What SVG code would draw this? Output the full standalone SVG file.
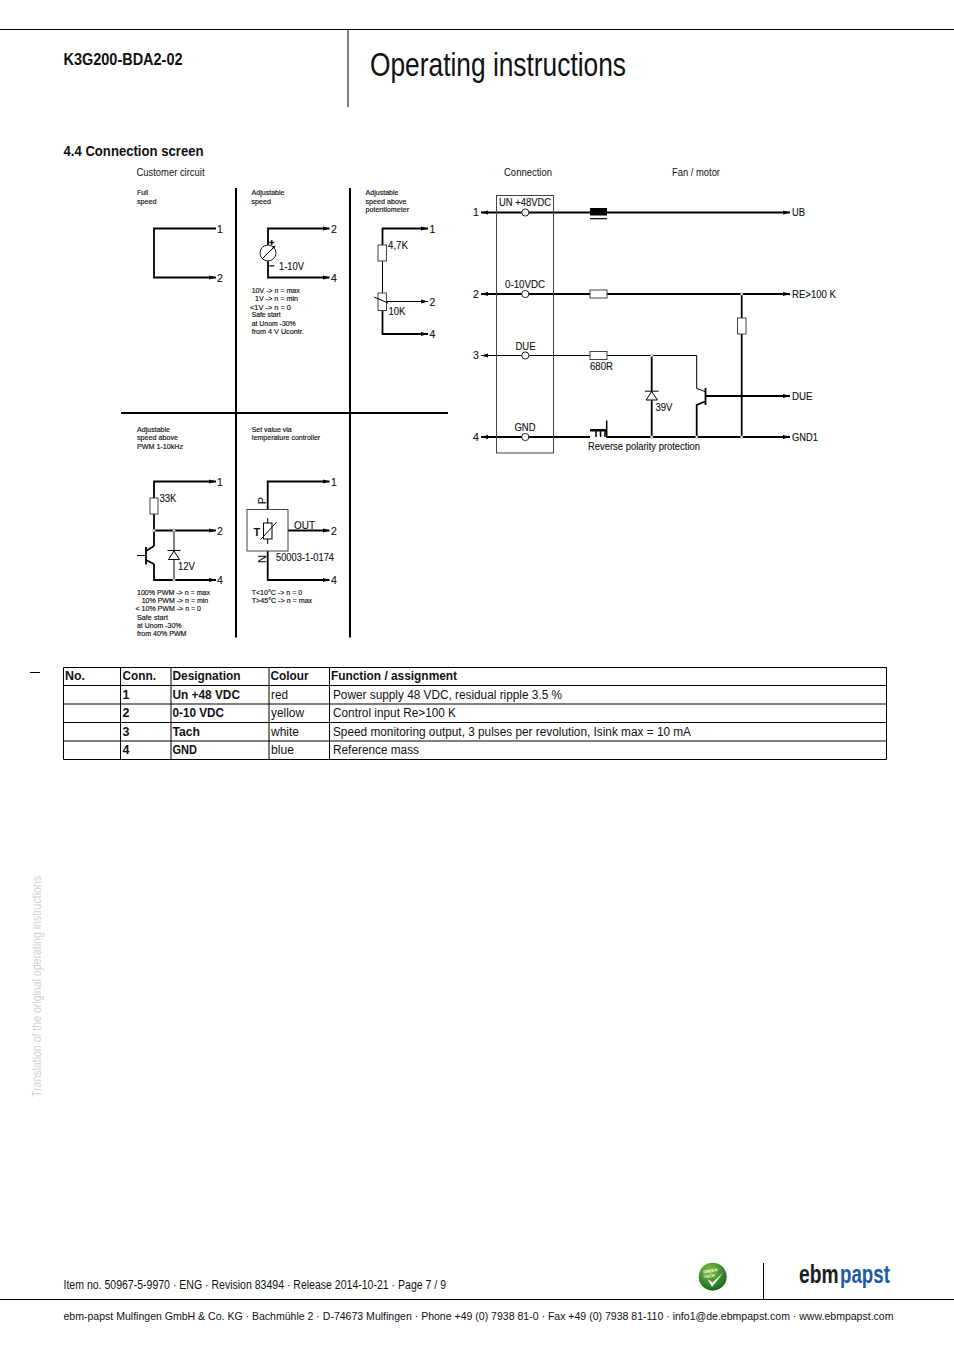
<svg xmlns="http://www.w3.org/2000/svg" width="954" height="1351" viewBox="0 0 954 1351">
<style>
text{font-family:"Liberation Sans",Arial,sans-serif;fill:#111}
.b{font-weight:bold}
.s{font-size:8px;stroke:#111;stroke-width:.18;transform:translateY(-.7px)}
.m{font-size:10.5px;stroke:#111;stroke-width:.12}
.t{font-size:12.5px}
.w{fill:none;stroke:#000;stroke-width:1.8}
.n{fill:none;stroke:#000;stroke-width:1}
.a{marker-end:url(#ar)}
.r{fill:#fff;stroke:#444;stroke-width:1}
.d{fill:none;stroke:#000;stroke-width:1}
.j{fill:#fff;stroke:#777;stroke-width:.6}
.c{fill:#fff;stroke:#222;stroke-width:1}
</style>
<defs>
<marker id="ar" markerUnits="userSpaceOnUse" markerWidth="7" markerHeight="5" refX="7" refY="2.5" orient="auto"><path d="M0 .4L7 2.5L0 4.6z" fill="#000"/></marker>
<radialGradient id="gr" cx=".4" cy=".3" r=".8"><stop offset="0" stop-color="#8cc63f"/><stop offset=".55" stop-color="#3c8a2e"/><stop offset="1" stop-color="#0e5a1f"/></radialGradient>
</defs>
<rect width="954" height="1351" fill="#fff"/>

<g id="header">
<path d="M0 29.5H954M348 29V107" stroke="#000" fill="none"/>
<text class="b" x="63.5" y="64.5" font-size="16" textLength="119" lengthAdjust="spacingAndGlyphs">K3G200-BDA2-02</text>
<text x="370" y="75.500" font-size="34" textLength="256" lengthAdjust="spacingAndGlyphs">Operating instructions</text>
<text class="b" x="63.5" y="156" font-size="15.5" textLength="140" lengthAdjust="spacingAndGlyphs">4.4 Connection screen</text>
</g>

<g id="panel-grid">
<path d="M236 188V637.5M350 188V637.5" stroke="#000" stroke-width="2" fill="none"/>
<path d="M121 413H448" stroke="#000" stroke-width="2" fill="none"/>
<text x="136.500" y="175.500" font-size="11" textLength="68" lengthAdjust="spacingAndGlyphs">Customer circuit</text>
<text x="504" y="175.500" font-size="11" textLength="48" lengthAdjust="spacingAndGlyphs">Connection</text>
<text x="672" y="175.500" font-size="11" textLength="48" lengthAdjust="spacingAndGlyphs">Fan / motor</text>
</g>

<g id="connectors">
<path class="w a" d="M216 228.500H154V277.500H216"/>
<path class="w a" d="M268 245V228.500H329.500"/>
<path class="w a" d="M268 261V277.500H329.500"/>
<path class="w a" d="M382.500 245V228.500H428"/>
<path class="n" d="M382.500 261V293"/>
<path class="w a" d="M382.500 310V334H428"/>
<path class="n a" d="M386.500 301.500H428"/>
<path class="w a" d="M154 498V481.500H216"/>
<path class="w a" d="M154 530.500H216"/>
<path class="w a" d="M154 564V580H216"/>
<path class="w" d="M154 514V546"/>
<path class="n" d="M174 530.500V580"/>
<path class="w a" d="M267.700 509V481.500H329.500"/>
<path class="w a" d="M288 530.500H329.500"/>
<path class="w a" d="M267.700 551V580H329.500"/>
<path class="w a" d="M590 212.500H790"/>
<path class="w a" d="M590 212.500H481"/>
<path class="w a" d="M607 294H790"/>
<path class="w a" d="M590 294H481"/>
<path class="n" d="M607 355.500H696.700V388.500L705 391.500"/>
<path class="n a" d="M590 355.500H481"/>
<path class="w" d="M705 401.500L696.700 405V437"/>
<path class="w a" d="M706 396H790"/>
<path class="w" d="M741.700 294V318M741.700 334V437"/>
<path class="w" d="M651.700 355.500V437"/>
<path class="w a" d="M606 437H790"/>
<path class="w a" d="M590 437H481"/>
</g>

<g id="full-speed">
<text class="s" x="137" y="196" textLength="11" lengthAdjust="spacingAndGlyphs">Full</text>
<text class="s" x="137" y="204.500" textLength="19.500" lengthAdjust="spacingAndGlyphs">speed</text>
<text class="m" x="217" y="232.500">1</text>
<text class="m" x="217" y="281.500">2</text>
</g>

<g id="adjustable-speed">
<text class="s" x="251.500" y="196" textLength="33" lengthAdjust="spacingAndGlyphs">Adjustable</text>
<text class="s" x="251.500" y="204.500" textLength="19.500" lengthAdjust="spacingAndGlyphs">speed</text>
<circle cx="268" cy="253" r="8" fill="#fff" stroke="#222"/>
<path class="d" d="M262 259L274.500 246.500"/>
<path d="M275.500 245.500l-3.600 1.200 2.400 2.400z" fill="#000"/>
<path d="M269.300 242.500h5M271.800 240v5M269.300 265.800h5" stroke="#000" stroke-width="1.300" fill="none"/>
<text class="m" x="279" y="269.500" textLength="25" lengthAdjust="spacingAndGlyphs">1-10V</text>
<text class="m" x="331" y="232.500">2</text>
<text class="m" x="331" y="281.500">4</text>
<text class="s" x="251.700" y="293.500" textLength="48" lengthAdjust="spacingAndGlyphs">10V -&gt; n = max</text>
<text class="s" x="255" y="302" textLength="43" lengthAdjust="spacingAndGlyphs">1V -&gt; n = min</text>
<text class="s" x="250" y="310.500" textLength="41" lengthAdjust="spacingAndGlyphs">&lt;1V -&gt; n = 0</text>
<text class="s" x="251.700" y="318" textLength="29" lengthAdjust="spacingAndGlyphs">Safe start</text>
<text class="s" x="251.700" y="326.500" textLength="44" lengthAdjust="spacingAndGlyphs">at Unom -30%</text>
<text class="s" x="251.700" y="335" textLength="52" lengthAdjust="spacingAndGlyphs">from 4 V Ucontr.</text>
</g>

<g id="potentiometer">
<text class="s" x="365.500" y="196" textLength="33" lengthAdjust="spacingAndGlyphs">Adjustable</text>
<text class="s" x="365.500" y="204.500" textLength="41" lengthAdjust="spacingAndGlyphs">speed above</text>
<text class="s" x="365.500" y="213" textLength="43.500" lengthAdjust="spacingAndGlyphs">potentiometer</text>
<rect class="r" x="378" y="245" width="8.500" height="16"/>
<rect class="r" x="378" y="293" width="8.500" height="17.500"/>
<path class="d" d="M374 297L388 303"/>
<text class="m" x="388" y="248.500" textLength="20" lengthAdjust="spacingAndGlyphs">4,7K</text>
<text class="m" x="388.500" y="314.500" textLength="17" lengthAdjust="spacingAndGlyphs">10K</text>
<text class="m" x="429.500" y="232.500">1</text>
<text class="m" x="429.500" y="305.500">2</text>
<text class="m" x="429.500" y="338">4</text>
</g>

<g id="pwm">
<text class="s" x="137" y="432.500" textLength="33" lengthAdjust="spacingAndGlyphs">Adjustable</text>
<text class="s" x="137" y="441" textLength="41" lengthAdjust="spacingAndGlyphs">speed above</text>
<text class="s" x="137" y="449.500" textLength="46" lengthAdjust="spacingAndGlyphs">PWM 1-10kHz</text>
<rect class="r" x="150" y="498" width="8" height="16"/>
<text class="m" x="159.500" y="501.500" textLength="17" lengthAdjust="spacingAndGlyphs">33K</text>
<circle class="j" cx="154" cy="530.500" r="1.300"/>
<circle class="j" cx="174" cy="530.500" r="1.300"/>
<circle class="j" cx="174" cy="580" r="1.300"/>
<path class="w" d="M146 547V564.500"/>
<path class="n" d="M137 555.500H146"/>
<path class="w" d="M146 551L154 546M146 560L154 564"/>
<path d="M174 551L168.500 559.500H179.500Z" fill="#fff" stroke="#000"/>
<path class="d" d="M167.500 550.500H180.500"/>
<text class="m" x="178" y="569.500" textLength="17" lengthAdjust="spacingAndGlyphs">12V</text>
<text class="m" x="217" y="485.500">1</text>
<text class="m" x="217" y="534.500">2</text>
<text class="m" x="217" y="584">4</text>
<text class="s" x="137" y="596" textLength="73" lengthAdjust="spacingAndGlyphs">100% PWM -&gt; n = max</text>
<text class="s" x="141.700" y="604" textLength="66.500" lengthAdjust="spacingAndGlyphs">10% PWM -&gt; n = min</text>
<text class="s" x="135.500" y="612" textLength="65.500" lengthAdjust="spacingAndGlyphs">&lt; 10% PWM -&gt; n = 0</text>
<text class="s" x="137" y="620.500" textLength="31" lengthAdjust="spacingAndGlyphs">Safe start</text>
<text class="s" x="137" y="628.500" textLength="44.500" lengthAdjust="spacingAndGlyphs">at Unom -30%</text>
<text class="s" x="137" y="637" textLength="49.500" lengthAdjust="spacingAndGlyphs">from 40% PWM</text>
</g>

<g id="temperature">
<text class="s" x="251.700" y="432.500" textLength="40" lengthAdjust="spacingAndGlyphs">Set value via</text>
<text class="s" x="251.700" y="441" textLength="68.500" lengthAdjust="spacingAndGlyphs">temperature controller</text>
<rect class="r" x="247" y="509.500" width="41" height="41.500"/>
<text class="b" x="253.500" y="536" font-size="11">T</text>
<path class="d" d="M267.700 518V523M267.700 539V544"/>
<rect x="263.500" y="523" width="8.500" height="16" fill="#fff" stroke="#000"/>
<path class="d" d="M260.700 539.500L276.700 522"/>
<text class="m" transform="translate(265.500 504) rotate(-90)" textLength="7" lengthAdjust="spacingAndGlyphs">P</text>
<text class="m" transform="translate(265.500 563) rotate(-90)" textLength="8" lengthAdjust="spacingAndGlyphs">N</text>
<text class="m" x="294" y="528.500" textLength="21" lengthAdjust="spacingAndGlyphs">OUT</text>
<text class="m" x="276" y="561" textLength="58" lengthAdjust="spacingAndGlyphs">50003-1-0174</text>
<text class="m" x="331" y="485.500">1</text>
<text class="m" x="331" y="534.500">2</text>
<text class="m" x="331" y="584">4</text>
<text class="s" x="251.700" y="596" textLength="50.500" lengthAdjust="spacingAndGlyphs">T&lt;10°C -&gt; n = 0</text>
<text class="s" x="251.700" y="604" textLength="60.500" lengthAdjust="spacingAndGlyphs">T&gt;45°C -&gt; n = max</text>
</g>

<g id="connection-box">
<rect x="496.500" y="195.500" width="57" height="257.500" fill="none" stroke="#444"/>
<circle class="c" cx="525.300" cy="212.500" r="3.600"/>
<circle class="c" cx="525.300" cy="294" r="3.600"/>
<circle class="c" cx="525.300" cy="355.500" r="3.600"/>
<circle class="c" cx="525.300" cy="437" r="3.600"/>
<text class="m" x="499" y="206" textLength="52" lengthAdjust="spacingAndGlyphs">UN +48VDC</text>
<text class="m" x="505" y="288" textLength="40" lengthAdjust="spacingAndGlyphs">0-10VDC</text>
<text class="m" x="515.500" y="350" textLength="20" lengthAdjust="spacingAndGlyphs">DUE</text>
<text class="m" x="514.500" y="431" textLength="21" lengthAdjust="spacingAndGlyphs">GND</text>
<text class="m" x="473" y="216">1</text>
<text class="m" x="473" y="298">2</text>
<text class="m" x="473" y="359">3</text>
<text class="m" x="473" y="441">4</text>
</g>

<g id="fan-motor">
<rect x="590" y="208" width="17" height="7.500" fill="#000"/>
<path d="M590 218.700H607" stroke="#000" stroke-width="1.200"/>
<rect class="r" x="590" y="290" width="17" height="8"/>
<rect class="r" x="590" y="351.500" width="17" height="8"/>
<rect class="r" x="737.500" y="318" width="8.500" height="16"/>
<circle class="j" cx="741.700" cy="294" r="1.300"/>
<circle class="j" cx="651.700" cy="355.500" r="1.300"/>
<circle class="j" cx="651.700" cy="437" r="1.300"/>
<circle class="j" cx="696.700" cy="437" r="1.300"/>
<circle class="j" cx="741.700" cy="437" r="1.300"/>
<path d="M705.500 388V405" stroke="#000" stroke-width="1.800"/>
<path d="M651.700 391.500L646 400H657.400Z" fill="#fff" stroke="#000"/>
<path class="d" d="M645 391.200H658.500"/>
<path d="M596 437V430M600.500 430V437M605 430V437M606.700 420.500V437" stroke="#000" stroke-width="1.500" fill="none"/>
<path d="M590 429H606V431.500H590Z" fill="#000"/>
<path d="M597 437H600" stroke="#fff" stroke-width="2"/>
<text class="m" x="792" y="216" textLength="13" lengthAdjust="spacingAndGlyphs">UB</text>
<text class="m" x="792" y="298" textLength="44" lengthAdjust="spacingAndGlyphs">RE&gt;100 K</text>
<text class="m" x="792" y="400" textLength="20.500" lengthAdjust="spacingAndGlyphs">DUE</text>
<text class="m" x="792" y="441" textLength="26" lengthAdjust="spacingAndGlyphs">GND1</text>
<text class="m" x="590" y="369.500" textLength="23" lengthAdjust="spacingAndGlyphs">680R</text>
<text class="m" x="655.500" y="410.500" textLength="17" lengthAdjust="spacingAndGlyphs">39V</text>
<text class="m" x="588" y="450" textLength="112" lengthAdjust="spacingAndGlyphs">Reverse polarity protection</text>
</g>

<g id="table">
<path d="M30 672.500H40" stroke="#000"/>
<path d="M63.500 667.500H886.500M63.500 685.500H886.500M63.500 704H886.500M63.500 722.500H886.500M63.500 741H886.500M63.500 759.500H886.500M63.500 667.500V759.500M120.500 667.500V759.500M171 667.500V759.500M269 667.500V759.500M329.500 667.500V759.500M886.500 667.500V759.500" stroke="#000" fill="none"/>
<g class="t" transform="translate(0 -.7)">
<text class="b" x="65" y="681" textLength="20" lengthAdjust="spacingAndGlyphs">No.</text>
<text class="b" x="122.500" y="681" textLength="33.500" lengthAdjust="spacingAndGlyphs">Conn.</text>
<text class="b" x="172.500" y="681" textLength="68" lengthAdjust="spacingAndGlyphs">Designation</text>
<text class="b" x="270.500" y="681" textLength="38" lengthAdjust="spacingAndGlyphs">Colour</text>
<text class="b" x="331" y="681" textLength="126" lengthAdjust="spacingAndGlyphs">Function / assignment</text>
<text class="b" x="122.500" y="699.500">1</text>
<text class="b" x="172.500" y="699.500" textLength="67.500" lengthAdjust="spacingAndGlyphs">Un +48 VDC</text>
<text x="271" y="699.500" textLength="17" lengthAdjust="spacingAndGlyphs">red</text>
<text x="333" y="699.500" textLength="229" lengthAdjust="spacingAndGlyphs">Power supply 48 VDC, residual ripple 3.5 %</text>
<text class="b" x="122.500" y="718">2</text>
<text class="b" x="172.500" y="718" textLength="51.500" lengthAdjust="spacingAndGlyphs">0-10 VDC</text>
<text x="271" y="718" textLength="33" lengthAdjust="spacingAndGlyphs">yellow</text>
<text x="333" y="718" textLength="123" lengthAdjust="spacingAndGlyphs">Control input Re&gt;100 K</text>
<text class="b" x="122.500" y="736.500">3</text>
<text class="b" x="172.500" y="736.500" textLength="27.500" lengthAdjust="spacingAndGlyphs">Tach</text>
<text x="271" y="736.500" textLength="28" lengthAdjust="spacingAndGlyphs">white</text>
<text x="333" y="736.500" textLength="358" lengthAdjust="spacingAndGlyphs">Speed monitoring output, 3 pulses per revolution, Isink max = 10 mA</text>
<text class="b" x="122.500" y="755">4</text>
<text class="b" x="172.500" y="755" textLength="24.500" lengthAdjust="spacingAndGlyphs">GND</text>
<text x="271" y="755" textLength="23" lengthAdjust="spacingAndGlyphs">blue</text>
<text x="333" y="755" textLength="86" lengthAdjust="spacingAndGlyphs">Reference mass</text>
</g>
</g>

<g id="side-note">
<text transform="translate(41 1097) rotate(-90)" font-size="12" style="fill:#d2d2d2" textLength="221" lengthAdjust="spacingAndGlyphs">Translation of the original operating instructions</text>
</g>

<g id="footer">
<text x="63.500" y="1289" font-size="12" textLength="382.500" lengthAdjust="spacingAndGlyphs">Item no. 50967-5-9970 · ENG · Revision 83494 · Release 2014-10-21 · Page 7 / 9</text>
<path d="M0 1299.500H954M763.500 1263V1299" stroke="#000" fill="none"/>
<text x="63.500" y="1320" font-size="11.300" textLength="830" lengthAdjust="spacingAndGlyphs">ebm-papst Mulfingen GmbH &amp; Co. KG · Bachmühle 2 · D-74673 Mulfingen · Phone +49 (0) 7938 81-0 · Fax +49 (0) 7938 81-110 · info1@de.ebmpapst.com · www.ebmpapst.com</text>
</g>

<g id="logos">
<circle cx="712.700" cy="1276.700" r="14" fill="url(#gr)"/>
<path d="M707.500 1279L712 1287L723 1273L712.500 1282.500Z" fill="#fff"/>
<text class="b" transform="translate(703.500 1273.500) rotate(-10)" font-size="4" style="fill:#fff">GREEN</text>
<text class="b" transform="translate(704 1278.500) rotate(-10)" font-size="4" style="fill:#fff">TECH</text>
<text class="b" transform="translate(799 1283) scale(.74 1)" font-size="26" style="fill:#1c1c1c">ebm</text>
<text class="b" transform="translate(840 1283) scale(.72 1)" font-size="26" style="fill:#1a5ba6">papst</text>
</g>
</svg>
